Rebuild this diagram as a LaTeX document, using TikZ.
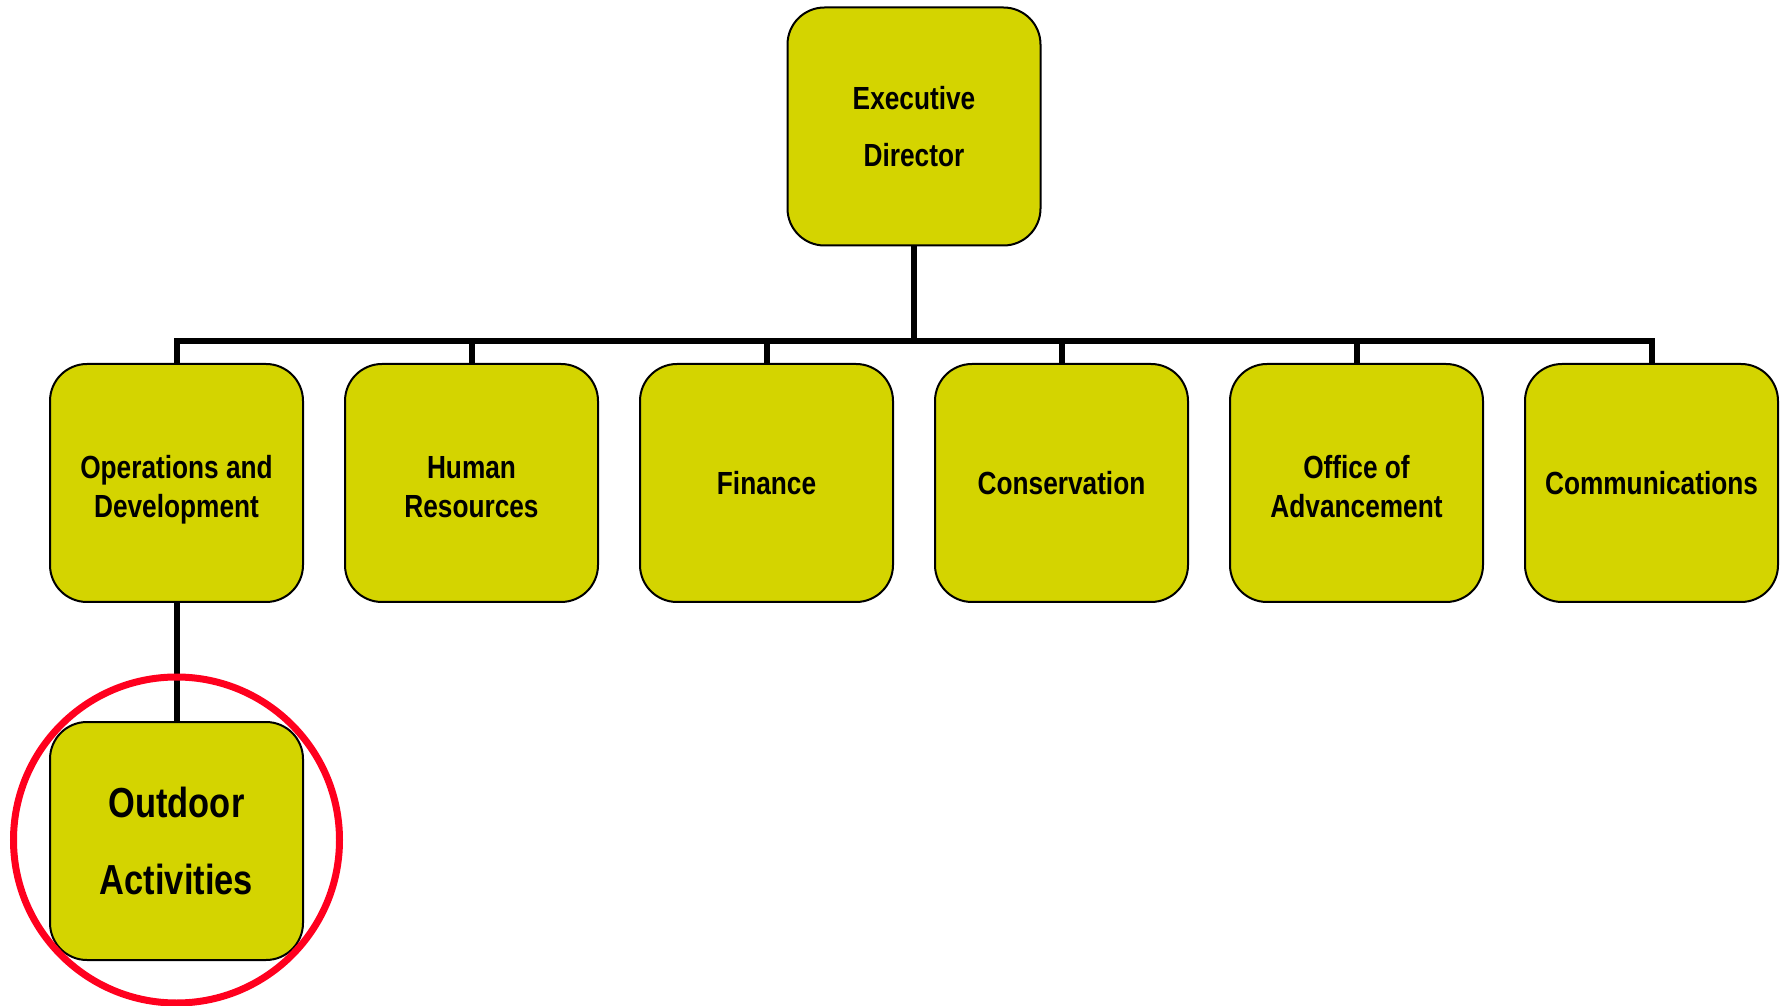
\documentclass[tikz,border=0pt]{standalone}
\usepackage{fontspec}
\setmainfont{Liberation Sans}
\newfontfamily\narrowfont[FakeStretch=0.82]{Liberation Sans}
\usetikzlibrary{positioning}
\usetikzlibrary{backgrounds}
\definecolor{boxyellow}{RGB}{212,212,0}
\definecolor{ringred}{RGB}{255,0,30}

\begin{document}
\begin{tikzpicture}[x=1pt, y=1pt,
                unit/.style={rectangle, rounded corners=37pt, fill=boxyellow, draw, line width=2pt,
                    minimum width=253pt, minimum height=238pt, inner sep=0pt, align=center,
                    font=\narrowfont\bfseries\fontsize{32}{39}\selectfont},
                pair/.style={text height=70pt, text depth=0pt},
                link/.style={draw, line width=6pt},
                ring/.style={draw=ringred, line width=7pt}
            ]
            \useasboundingbox (0,0) rectangle (1780,1005);
            \node[unit, font=\narrowfont\bfseries\fontsize{32}{57}\selectfont](ed) at (914,878.5){Executive\\Director};
            \node[unit, pair](ops) at (176.5,522){Operations and\\Development};
            \node[unit, pair, right=40pt of ops](hr){Human\\Resources};
            \node[unit, right=40pt of hr](fin){Finance};
            \node[unit, right=40pt of fin](cons){Conservation};
            \node[unit, pair, right=40pt of cons](adv){Office of\\Advancement};
            \node[unit, right=40pt of adv](comm){Communications};
            \node[unit, below=118pt of ops, font=\narrowfont\bfseries\fontsize{42}{77}\selectfont](out){Outdoor\\Activities};
            \coordinate(bus) at (0,664);
            \begin{scope}[on background layer]
                \path[link] (ed.south) -- (ed.south |- bus);
                \path[link] (ops.north) |- (comm.north |- bus) -- (comm.north);
                \foreach \n in {hr,fin,cons,adv}
                    \path[link] (\n.north) -- (\n.north |- bus);
                \path[link] (ops.south) -- (out.north);
            \end{scope}
            \draw[ring] (out.center) ++(0,1) circle (163);
        \end{tikzpicture}
\end{document}
